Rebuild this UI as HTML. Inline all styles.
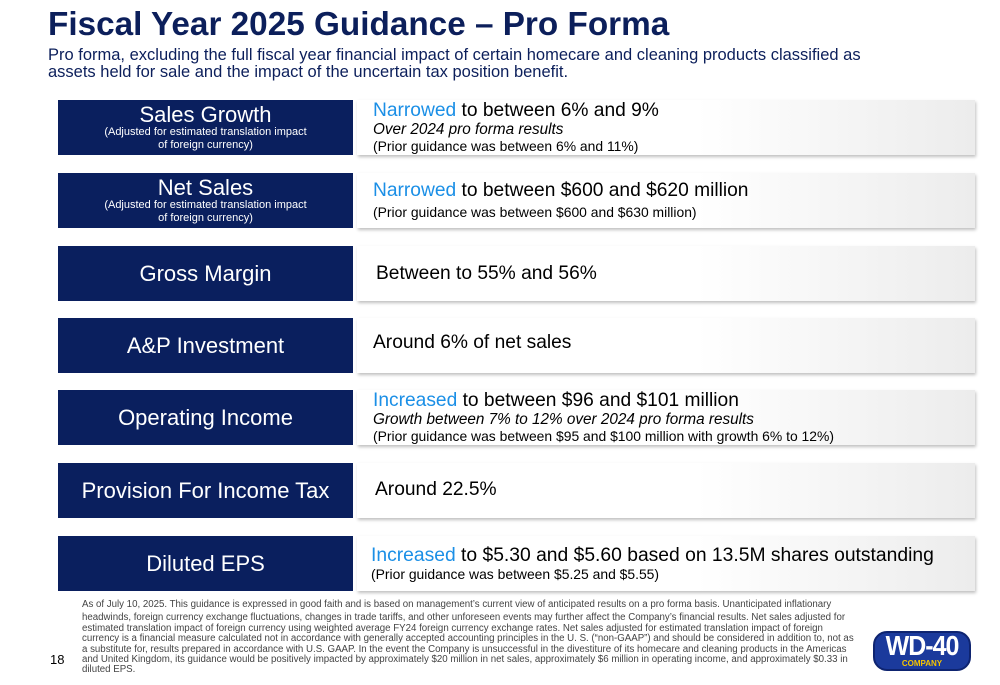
<!DOCTYPE html>
<html><head><meta charset="utf-8"><style>
*{margin:0;padding:0;box-sizing:border-box}
body{width:1000px;height:685px;background:#fff;font-family:"Liberation Sans",Arial,sans-serif;position:relative;overflow:hidden;color:#000}
.abs{position:absolute}
h1{position:absolute;left:48px;top:6px;font-size:33.3px;font-weight:bold;color:#0c1f5b;white-space:nowrap}
.sub{left:48px;top:47px;font-size:16.5px;line-height:17px;color:#0c1f5b;width:840px}
.lbl{position:absolute;left:58px;width:295px;height:55px;background:#0a1f5e;color:#fff;text-align:center;display:flex;flex-direction:column;justify-content:center}
.lbl .t{font-size:22px;line-height:22px}
.lbl .s{font-size:11px;line-height:13px}
.val{position:absolute;left:357px;width:618px;height:55px;background:linear-gradient(to right,#fff 0%,#fff 55%,#ececec 100%);box-shadow:1px 2px 3px rgba(0,0,0,0.25);padding-left:16px;display:flex;flex-direction:column;justify-content:center}
.m{font-size:19.2px;line-height:21px;white-space:nowrap}
.n{font-size:13.9px;line-height:17px;white-space:nowrap}
.b{color:#1b8fe6}
.i{font-style:italic;font-size:15.3px}
.foot{left:82px;top:600px;width:775px;font-size:9.7px;line-height:10.4px;color:#444}
</style></head><body>
<h1>Fiscal Year 2025 Guidance – Pro Forma</h1>
<div class="abs sub">Pro forma, excluding the full fiscal year financial impact of certain homecare and cleaning products classified as assets held for sale and the impact of the uncertain tax position benefit.</div>

<div class="lbl" style="top:100px"><div class="t">Sales Growth</div><div class="s">(Adjusted for estimated translation impact<br>of foreign currency)</div></div>
<div class="val" style="top:100px"><div class="m"><span class="b">Narrowed</span> to between 6% and 9%</div><div class="n i">Over 2024 pro forma results</div><div class="n">(Prior guidance was between 6% and 11%)</div></div>

<div class="lbl" style="top:173px"><div class="t">Net Sales</div><div class="s">(Adjusted for estimated translation impact<br>of foreign currency)</div></div>
<div class="val" style="top:173px"><div class="m"><span class="b">Narrowed</span> to between $600 and $620 million</div><div class="n" style="margin-top:3px">(Prior guidance was between $600 and $630 million)</div></div>

<div class="lbl" style="top:246px"><div class="t">Gross Margin</div></div>
<div class="val" style="top:246px;padding-left:19px"><div class="m">Between to 55% and 56%</div></div>

<div class="lbl" style="top:318px"><div class="t">A&amp;P Investment</div></div>
<div class="val" style="top:318px;justify-content:flex-start;padding-top:14px"><div class="m">Around 6% of net sales</div></div>

<div class="lbl" style="top:390px"><div class="t">Operating Income</div></div>
<div class="val" style="top:390px"><div class="m"><span class="b">Increased</span> to between $96 and $101 million</div><div class="n i">Growth between 7% to 12% over 2024 pro forma results</div><div class="n">(Prior guidance was between $95 and $100 million with growth 6% to 12%)</div></div>

<div class="lbl" style="top:463px"><div class="t">Provision For Income Tax</div></div>
<div class="val" style="top:463px;justify-content:flex-start;padding-top:16px;padding-left:18px"><div class="m">Around 22.5%</div></div>

<div class="lbl" style="top:536px"><div class="t">Diluted EPS</div></div>
<div class="val" style="top:536px;padding-left:14px"><div class="m" style="font-size:19.3px"><span class="b">Increased</span> to $5.30 and $5.60 based on 13.5M shares outstanding</div><div class="n">(Prior guidance was between $5.25 and $5.55)</div></div>

<div class="abs foot">As of July 10, 2025. This guidance is expressed in good faith and is based on management’s current view of anticipated results on a pro forma basis. Unanticipated inflationary<div style="height:3px"></div>headwinds, foreign currency exchange fluctuations, changes in trade tariffs, and other unforeseen events may further affect the Company’s financial results. Net sales adjusted for estimated translation impact of foreign currency using weighted average FY24 foreign currency exchange rates. Net sales adjusted for estimated translation impact of foreign currency is a financial measure calculated not in accordance with generally accepted accounting principles in the U. S. (“non-GAAP”) and should be considered in addition to, not as a substitute for, results prepared in accordance with U.S. GAAP. In the event the Company is unsuccessful in the divestiture of its homecare and cleaning products in the Americas and United Kingdom, its guidance would be positively impacted by approximately $20 million in net sales, approximately $6 million in operating income, and approximately $0.33 in diluted EPS.</div>
<div class="abs" style="left:50px;top:652px;font-size:13px">18</div>

<div class="abs" style="left:873px;top:631px;width:98px;height:40px;background:#1b3a9c;border-radius:14px;border:2px solid #0e2470;text-align:center;color:#fff">
<div style="font-size:25px;font-weight:bold;line-height:26px;letter-spacing:-1px;transform:scaleY(1.1)">WD-40</div>
<div style="font-size:8px;font-weight:bold;color:#f5c400;line-height:9px">COMPANY</div>
</div>
</body></html>
